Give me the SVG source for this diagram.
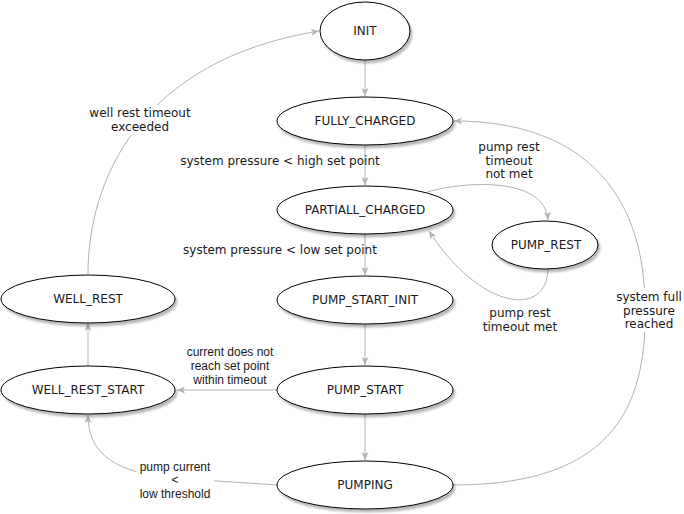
<svg xmlns="http://www.w3.org/2000/svg" width="684" height="514" viewBox="0 0 684 514">
  <style>
    .state { fill: #ffffff; stroke: #000000; stroke-width: 1; filter: url(#shadow); }
    .name { font-family: "DejaVu Sans", Verdana, sans-serif; font-size: 12px; fill: #1a1a1a; text-anchor: middle; }
    .edge { fill: none; stroke: #b3b3b3; stroke-width: 1; marker-end: url(#arrow); }
    .lbl { font-family: "DejaVu Sans", Verdana, sans-serif; font-size: 12px; fill: #1a1a1a; text-anchor: middle; }
    .lbl2 { font-family: "Liberation Sans", Arial, sans-serif; font-size: 12px; fill: #1a1a1a; text-anchor: middle; }
    .bg { fill: #ffffff; }
  </style>
  <defs>
    <filter id="shadow" x="-10%" y="-20%" width="125%" height="150%">
      <feDropShadow dx="2" dy="3" stdDeviation="1" flood-color="#000000" flood-opacity="0.28"/>
    </filter>
    <marker id="arrow" markerUnits="userSpaceOnUse" markerWidth="10" markerHeight="10" refX="8" refY="3.5" orient="auto">
      <path d="M0,0 L8,3.5 L0,7 L2,3.5 Z" fill="#b3b3b3"/>
    </marker>
  </defs>

  <rect width="684" height="514" fill="#ffffff"/>

  <!-- transitions -->
  <g id="connectors">
    <path class="edge" d="M365,60 L365,96"/>
    <path class="edge" d="M365,145 L365,185"/>
    <path class="edge" d="M365,234 L365,275"/>
    <path class="edge" d="M365,324 L365,365"/>
    <path class="edge" d="M365,414 L365,460"/>
    <path class="edge" d="M427,192 C470,180 545,178 548,220"/>
    <path class="edge" d="M548,270 C546,318 480,310 429,231"/>
    <path class="edge" d="M277,390 L177,390"/>
    <path class="edge" d="M88,366 L88,323"/>
    <path class="edge" d="M88,274 C88,180 140,60 319,31"/>
    <path class="edge" d="M277,485 L172,478 C110,472 88,450 88,415"/>
    <path class="edge" d="M453,485 C620,485 648,400 645,300 C642,190 580,121 454,121"/>

    <!-- transition labels -->
    <text class="lbl" x="280" y="165">system pressure &lt; high set point</text>
    <text class="lbl" x="280" y="254">system pressure &lt; low set point</text>
    <text class="lbl" x="509" y="151">pump rest</text>
    <text class="lbl" x="509" y="165">timeout</text>
    <text class="lbl" x="509" y="178">not met</text>
    <text class="lbl" x="520" y="317">pump rest</text>
    <text class="lbl" x="520" y="331">timeout met</text>
    <text class="lbl2" x="230" y="356">current does not</text>
    <text class="lbl2" x="230" y="370">reach set point</text>
    <text class="lbl2" x="230" y="384">within timeout</text>
    <rect class="bg" x="136" y="459" width="78" height="43"/>
    <text class="lbl2" x="175" y="471">pump current</text>
    <text class="lbl2" x="175" y="484">&lt;</text>
    <text class="lbl2" x="175" y="498">low threshold</text>
    <rect class="bg" x="86" y="105" width="110" height="30"/>
    <text class="lbl" x="140" y="117">well rest timeout</text>
    <text class="lbl" x="140" y="131">exceeded</text>
    <rect class="bg" x="613" y="288" width="71" height="44"/>
    <text class="lbl" x="649" y="301">system full</text>
    <text class="lbl" x="649" y="315">pressure</text>
    <text class="lbl" x="649" y="328">reached</text>
  </g>

  <!-- states -->
  <g id="init">
    <ellipse class="state" cx="365" cy="31" rx="45" ry="29"/>
    <text class="name" x="365" y="35">INIT</text>
  </g>
  <g id="fully_charged">
    <ellipse class="state" cx="365" cy="121" rx="88" ry="24"/>
    <text class="name" x="365" y="125">FULLY_CHARGED</text>
  </g>
  <g id="partiall_charged">
    <ellipse class="state" cx="365" cy="210" rx="88" ry="24"/>
    <text class="name" x="365" y="214">PARTIALL_CHARGED</text>
  </g>
  <g id="pump_rest">
    <ellipse class="state" cx="545" cy="245" rx="53" ry="24"/>
    <text class="name" x="546" y="249">PUMP_REST</text>
  </g>
  <g id="pump_start_init">
    <ellipse class="state" cx="365" cy="300" rx="88" ry="24"/>
    <text class="name" x="365" y="304">PUMP_START_INIT</text>
  </g>
  <g id="pump_start">
    <ellipse class="state" cx="365" cy="390" rx="88" ry="24"/>
    <text class="name" x="365" y="394">PUMP_START</text>
  </g>
  <g id="pumping">
    <ellipse class="state" cx="365" cy="485" rx="88" ry="24"/>
    <text class="name" x="365" y="489">PUMPING</text>
  </g>
  <g id="well_rest">
    <ellipse class="state" cx="88" cy="299" rx="87" ry="24"/>
    <text class="name" x="88" y="303">WELL_REST</text>
  </g>
  <g id="well_rest_start">
    <ellipse class="state" cx="88" cy="390" rx="87" ry="24"/>
    <text class="name" x="88" y="394">WELL_REST_START</text>
  </g>
</svg>
